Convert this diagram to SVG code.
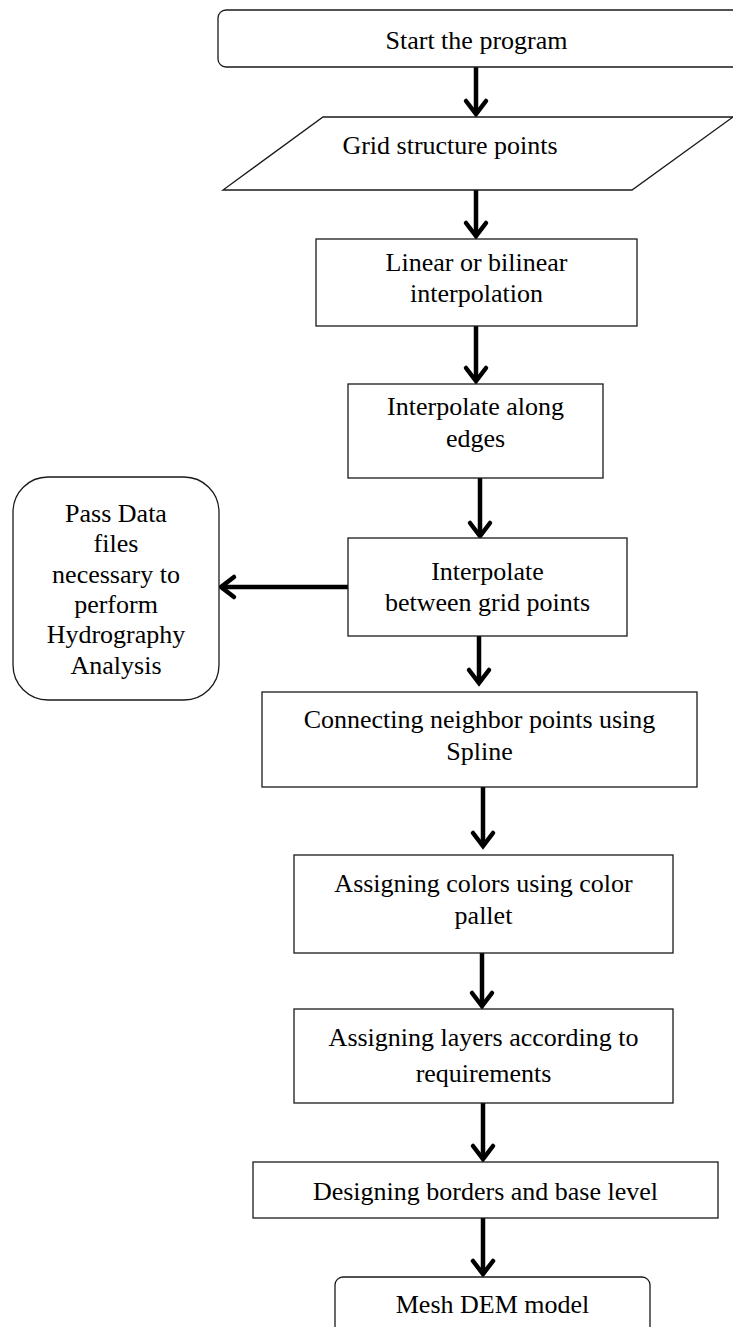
<svg xmlns="http://www.w3.org/2000/svg" width="733" height="1327" viewBox="0 0 733 1327">
<defs>
<marker id="ah" markerUnits="userSpaceOnUse" markerWidth="30" markerHeight="30" viewBox="-15 -15 30 30" refX="0" refY="0" orient="auto" overflow="visible">
<path d="M-13,-10 L0,0 L-13,10" fill="none" stroke="#000" stroke-width="4.5" stroke-linecap="round" stroke-linejoin="miter"/>
</marker>
<style>
.box{fill:#fff;stroke:#1a1a1a;stroke-width:1.3}
.t{font-family:"Liberation Serif","Times New Roman",serif;font-size:26px;fill:#000;text-anchor:middle}
.c{stroke:#000;stroke-width:4.5;fill:none;marker-end:url(#ah)}
</style>
</defs>
<rect width="733" height="1327" fill="#fff"/>
<g id="connectors">
<line class="c" x1="476" y1="67" x2="476" y2="114"/>
<line class="c" x1="476" y1="190" x2="476" y2="236"/>
<line class="c" x1="476" y1="326" x2="476" y2="381"/>
<line class="c" x1="480" y1="478" x2="480" y2="536"/>
<line class="c" x1="479" y1="636" x2="479" y2="683"/>
<line class="c" x1="348" y1="587" x2="221" y2="587"/>
<line class="c" x1="483" y1="787" x2="483" y2="846"/>
<line class="c" x1="482" y1="953" x2="482" y2="1006"/>
<line class="c" x1="483" y1="1103" x2="483" y2="1159"/>
<line class="c" x1="483" y1="1218" x2="483" y2="1274"/>
</g>
<g id="start">
<rect class="box" x="218" y="10" width="530" height="57" rx="8"/>
<text class="t" x="476.5" y="49">Start the program</text>
</g>
<g id="grid">
<polygon class="box" points="323,117 733,117 632,190 223,190"/>
<text class="t" x="450" y="154">Grid structure points</text>
</g>
<g id="linear">
<rect class="box" x="316" y="239" width="321" height="87"/>
<text class="t" x="476.5" y="271">Linear or bilinear</text>
<text class="t" x="476.5" y="302">interpolation</text>
</g>
<g id="edges">
<rect class="box" x="348" y="384" width="255" height="94"/>
<text class="t" x="475.5" y="415">Interpolate along</text>
<text class="t" x="475.5" y="447">edges</text>
</g>
<g id="between">
<rect class="box" x="348" y="538" width="279" height="98"/>
<text class="t" x="487.5" y="580">Interpolate</text>
<text class="t" x="487.5" y="611">between grid points</text>
</g>
<g id="passdata">
<rect class="box" x="13" y="477" width="206" height="223" rx="35"/>
<text class="t" x="116" y="522">Pass Data</text>
<text class="t" x="116" y="552">files</text>
<text class="t" x="116" y="583">necessary to</text>
<text class="t" x="116" y="613">perform</text>
<text class="t" x="116" y="643">Hydrography</text>
<text class="t" x="116" y="674">Analysis</text>
</g>
<g id="connecting">
<rect class="box" x="262" y="692" width="435" height="95"/>
<text class="t" x="479.5" y="728">Connecting neighbor points using</text>
<text class="t" x="479.5" y="760">Spline</text>
</g>
<g id="colors">
<rect class="box" x="294" y="855" width="379" height="98"/>
<text class="t" x="483.5" y="892">Assigning colors using color</text>
<text class="t" x="483.5" y="924">pallet</text>
</g>
<g id="layers">
<rect class="box" x="294" y="1009" width="379" height="94"/>
<text class="t" x="483.5" y="1046">Assigning layers according to</text>
<text class="t" x="483.5" y="1082">requirements</text>
</g>
<g id="borders">
<rect class="box" x="253" y="1162" width="465" height="56"/>
<text class="t" x="485.5" y="1200">Designing borders and base level</text>
</g>
<g id="mesh">
<rect class="box" x="335" y="1277" width="315" height="60" rx="8"/>
<text class="t" x="492.5" y="1313">Mesh DEM model</text>
</g>
</svg>
